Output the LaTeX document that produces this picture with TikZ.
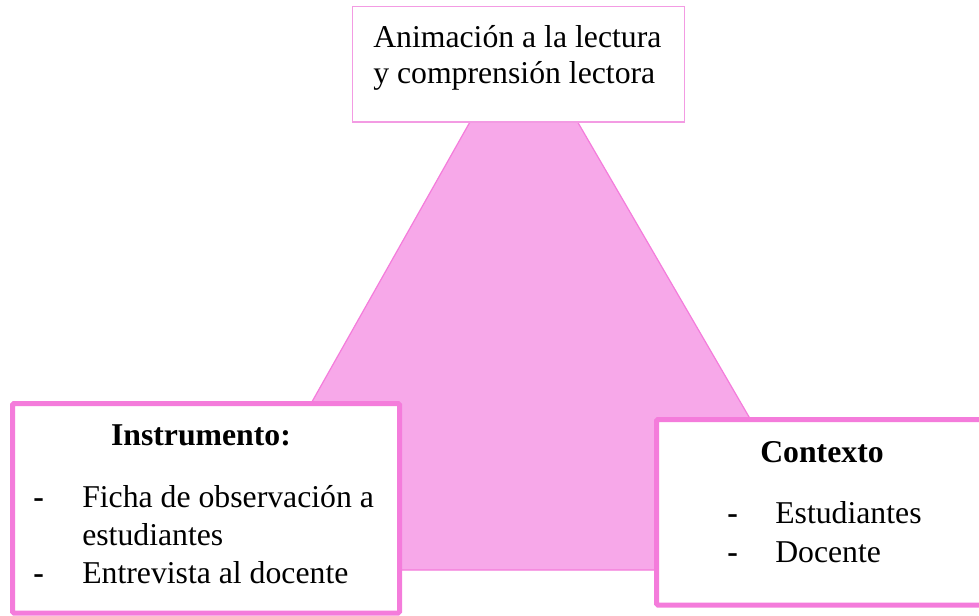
\documentclass[tikz,border=0pt]{standalone}
\usepackage{fontspec}
\setmainfont{Liberation Serif}

\definecolor{rosa}{HTML}{F7A8E9}
\definecolor{rosaborde}{HTML}{F47CDB}
\definecolor{rosafino}{HTML}{F39BE3}

\begin{document}
\begin{tikzpicture}[x = 0.75pt, y = -0.75pt, every node/.style = {inner sep = 0, font = \fontsize{23.8}{28}\selectfont}, titulo/.style = {anchor = base, font = \fontsize{23.8}{28}\selectfont\bfseries}, texto/.style = {anchor = base west}]

	\useasboundingbox (0, 0) rectangle (979, 615);

	% Triangle

	\fill [rosa, draw = rosaborde, line width = 0.9pt] (523, 28) -- (838, 570) -- (217, 570) -- cycle;

	% Boxes

	\draw [rosafino, fill = white, line width = 1.1pt] (352.5, 6.5) rectangle (684.5, 122);
	\draw [rosaborde, fill = white, line width = 3.75pt, rounded corners = 1pt] (12.5, 403.5) rectangle (399.5, 613);
	\draw [rosaborde, fill = white, line width = 3.75pt, rounded corners = 1pt] (656.5, 419.5) rectangle (995, 605);

	% Top label

	\node (tema1) [texto] at (373, 47) {Animación a la lectura};
	\node (tema2) [texto] at (373, 83) {y comprensión lectora};

	% Left label

	\node (instr) [titulo] at (201, 445) {Instrumento:};
	\node (guion1) [texto] at (33, 507) {\textbf{-}};
	\node (ficha1) [texto] at (82, 507) {Ficha de observación a};
	\node (ficha2) [texto] at (82, 545) {estudiantes};
	\node (guion2) [texto] at (33, 583) {\textbf{-}};
	\node (entrev) [texto] at (82, 583) {Entrevista al docente};

	% Right label

	\node (contx) [titulo] at (822, 462) {Contexto};
	\node (guion3) [texto] at (727, 523) {\textbf{-}};
	\node (estud) [texto] at (775, 523) {Estudiantes};
	\node (guion4) [texto] at (727, 562) {\textbf{-}};
	\node (docen) [texto] at (775, 562) {Docente};

\end{tikzpicture}
\end{document}
